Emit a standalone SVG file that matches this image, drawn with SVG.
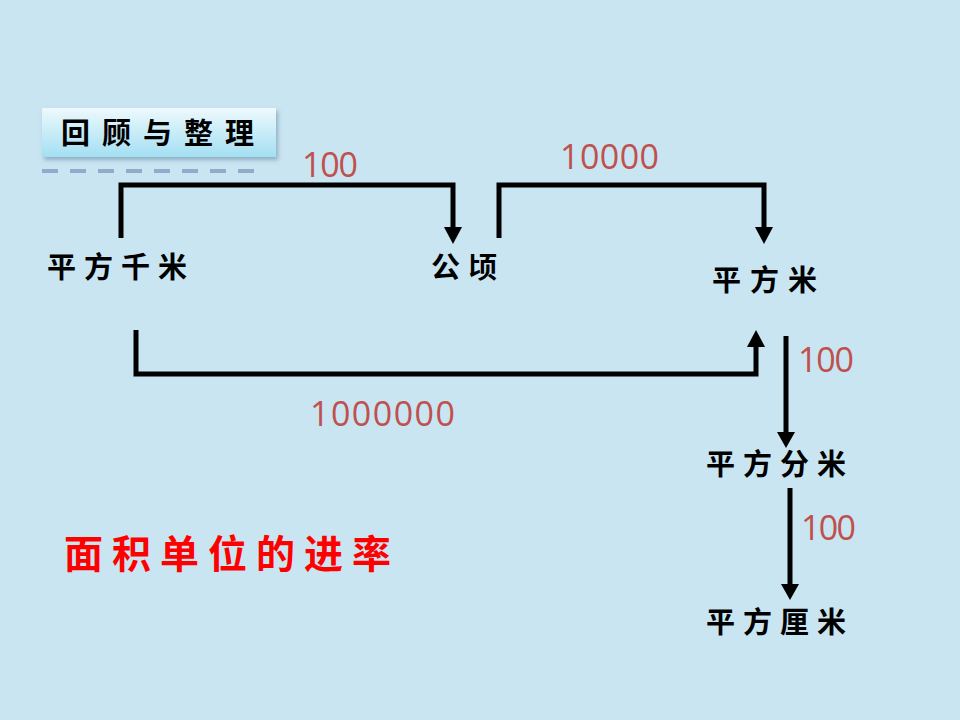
<svg xmlns="http://www.w3.org/2000/svg" width="960" height="720" viewBox="0 0 960 720">
<defs>
<linearGradient id="tg" x1="0" y1="0" x2="0" y2="1">
<stop offset="0" stop-color="#eef9fc"/>
<stop offset="1" stop-color="#a3dff3"/>
</linearGradient>
<filter id="sh" x="-10%" y="-20%" width="130%" height="160%">
<feDropShadow dx="2" dy="3" stdDeviation="2" flood-color="#6a8aa0" flood-opacity="0.6"/>
</filter>
</defs>
<style>
.lbl{font-family:"Noto Sans CJK SC","Noto Sans CJK JP",sans-serif;font-weight:700;font-size:29px;fill:#000}
.num{font-family:"Open Sans","Liberation Sans",sans-serif;font-size:34px;fill:#c0504d}
.ln{fill:none;stroke:#000;stroke-width:5;stroke-linejoin:miter;stroke-linecap:butt}
</style>
<rect width="960" height="720" fill="#c9e5f2"/>
<g id="title">
<rect x="42" y="108" width="234" height="49" fill="url(#tg)" filter="url(#sh)"/>
<text x="61" y="144" class="lbl" style="font-size:29px;letter-spacing:12px">回顾与整理</text>
<line x1="42" y1="171" x2="256" y2="171" stroke="#93aacb" stroke-width="4" stroke-dasharray="16,12"/>
</g>
<g id="connectors">
<path class="ln" d="M121,238 V185 H453 V228"/>
<path d="M444,227 L462,227 L453,244 Z"/>
<path class="ln" d="M499,238 V185 H764 V228"/>
<path d="M755,227 L773,227 L764,244 Z"/>
<path class="ln" d="M136,330 V374 H756 V347"/>
<path d="M747,347 L765,347 L756,330 Z"/>
<path class="ln" d="M786,336 V433"/>
<path d="M777,432 L795,432 L786,448 Z"/>
<path class="ln" d="M790,488 V585"/>
<path d="M781,584 L799,584 L790,600 Z"/>
<text class="num" x="302" y="177" textLength="56">100</text>
<text class="num" x="560" y="169" textLength="99">10000</text>
<text class="num" x="310" y="426" textLength="145">1000000</text>
<text class="num" x="798" y="372" textLength="56">100</text>
<text class="num" x="801" y="540" textLength="55">100</text>
</g>
<g id="n-km2"><text class="lbl" x="47" y="278" style="letter-spacing:8px">平方千米</text></g>
<g id="n-ha"><text class="lbl" x="431" y="278" style="letter-spacing:8px">公顷</text></g>
<g id="n-m2"><text class="lbl" x="712" y="291" style="letter-spacing:9px">平方米</text></g>
<g id="n-dm2"><text class="lbl" x="706" y="475" style="letter-spacing:8px">平方分米</text></g>
<g id="n-cm2"><text class="lbl" x="706" y="633" style="letter-spacing:8px">平方厘米</text></g>
<g id="caption"><text x="64" y="568" style="font-family:'Noto Sans CJK SC',sans-serif;font-weight:700;font-size:39px;fill:#ff0000;letter-spacing:9px">面积单位的进率</text></g>
</svg>
